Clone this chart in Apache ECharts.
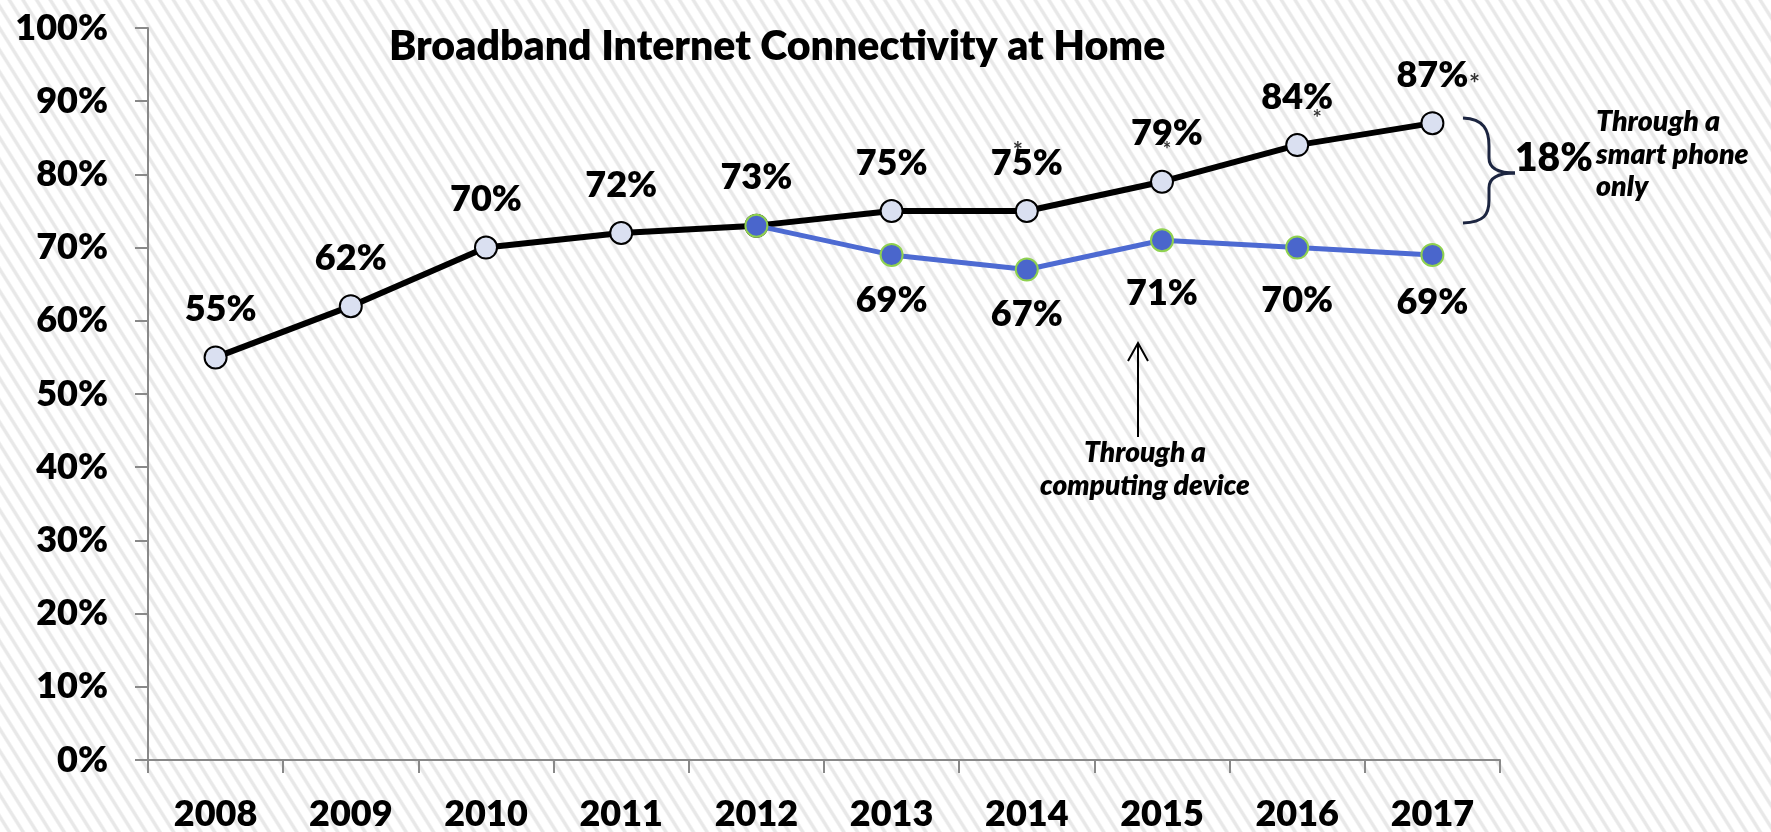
<!DOCTYPE html>
<html>
<head>
<meta charset="utf-8">
<script src="https://cdn.jsdelivr.net/npm/echarts@6/dist/echarts.min.js"></script>
<style>
  html, body { margin: 0; padding: 0; width: 1771px; height: 832px; overflow: hidden; }
  body {
    background: repeating-linear-gradient(58deg, #ffffff 0px, #ffffff 5.5px, #e8e8e8 7px, #e8e8e8 9px, #ffffff 10.5px, #ffffff 11.6px);
  }
  #chart { width: 1771px; height: 832px; }
</style>
</head>
<body>
<div id="chart"></div>
<script>
const years = ['2008','2009','2010','2011','2012','2013','2014','2015','2016','2017'];
const totalBroadband = [55, 62, 70, 72, 73, 75, 75, 79, 84, 87];
const computingDevice = [null, null, null, null, 73, 69, 67, 71, 70, 69];
const asteriskYears = ['2014', '2015', '2016', '2017'];
const yTicks = [0, 10, 20, 30, 40, 50, 60, 70, 80, 90, 100];
const titleText = 'Broadband Internet Connectivity at Home';
const smartPhoneGap = '18%';

const FONT = 'Lato, "Open Sans", "Noto Sans", sans-serif';
const W = 800;
const asteriskOffsets = { '2014': [-9, -59], '2015': [5, -31], '2016': [20, -26], '2017': [42, -39] };
const asteriskSizes = { '2014': 24, '2015': 20, '2016': 22, '2017': 26 };
const totalLabelOffsets = { '2008': [5, 0], '2015': [5, 0] };
const deviceLabelDistance = { '2015': 23, '2016': 23, '2017': 17 };

const chart = echarts.init(document.getElementById('chart'), null, { renderer: 'canvas' });

const asteriskData = asteriskYears.map(y => {
  const i = years.indexOf(y);
  return { value: [y, totalBroadband[i]], label: { offset: asteriskOffsets[y], fontSize: asteriskSizes[y] } };
});

const totalData = totalBroadband.map((v, i) => {
  const o = totalLabelOffsets[years[i]];
  return o ? { value: v, label: { offset: o } } : v;
});

const deviceData = computingDevice.map((v, i) => {
  const d = deviceLabelDistance[years[i]];
  return d ? { value: v, label: { distance: d } } : v;
});

const braceStyle = { fill: 'none', stroke: '#1c2540', lineWidth: 3 };

const option = {
  backgroundColor: 'transparent',
  animation: false,
  title: {
    text: titleText,
    left: 384,
    top: 21,
    textStyle: { fontFamily: FONT, fontWeight: W, fontSize: 41, color: '#000' }
  },
  grid: { left: 148, right: 271, top: 28, bottom: 72, containLabel: false },
  xAxis: {
    type: 'category',
    data: years,
    boundaryGap: true,
    axisLine: { show: true, lineStyle: { color: '#898989', width: 2 } },
    axisTick: { show: true, length: 13, lineStyle: { color: '#898989', width: 2 } },
    axisLabel: { margin: 36, fontFamily: FONT, fontWeight: W, fontSize: 36, color: '#000' },
    splitLine: { show: false }
  },
  yAxis: {
    type: 'value',
    min: yTicks[0],
    max: yTicks[yTicks.length - 1],
    interval: yTicks[1] - yTicks[0],
    axisLine: { show: true, lineStyle: { color: '#898989', width: 2 } },
    axisTick: { show: true, length: 13, lineStyle: { color: '#898989', width: 2 } },
    axisLabel: { margin: 40, formatter: '{value}%', fontFamily: FONT, fontWeight: W, fontSize: 36, color: '#000' },
    splitLine: { show: false }
  },
  series: [
    {
      name: 'Total',
      type: 'line',
      data: totalData,
      z: 2,
      symbol: 'circle',
      symbolSize: 22,
      lineStyle: { color: '#000', width: 6 },
      itemStyle: { color: '#dae0f1', borderColor: '#000', borderWidth: 2 },
      label: {
        show: true,
        position: 'top',
        distance: 18,
        formatter: '{c}%',
        fontFamily: FONT, fontWeight: W, fontSize: 36, color: '#000'
      }
    },
    {
      name: 'Computing device',
      type: 'line',
      data: deviceData,
      z: 3,
      symbol: 'circle',
      symbolSize: 22,
      lineStyle: { color: '#4d6ad2', width: 5 },
      itemStyle: { color: '#4a66cc', borderColor: '#8fd14f', borderWidth: 2 },
      label: {
        show: true,
        position: 'bottom',
        distance: 15,
        formatter: p => (p.dataIndex === 4 ? '' : p.value + '%'),
        fontFamily: FONT, fontWeight: W, fontSize: 36, color: '#000'
      }
    },
    {
      name: 'asterisk',
      type: 'scatter',
      data: asteriskData,
      symbolSize: 1,
      itemStyle: { color: 'rgba(0,0,0,0)' },
      z: 5,
      silent: true,
      label: {
        show: true,
        position: 'inside',
        formatter: '*',
        fontFamily: FONT, fontWeight: 'bold', fontSize: 24, color: '#000'
      }
    }
  ],
  graphic: [
    { type: 'bezierCurve', shape: { x1: 1463, y1: 118, cpx1: 1484, cpy1: 119, cpx2: 1489, cpy2: 130, x2: 1489, y2: 146 }, style: braceStyle },
    { type: 'line', shape: { x1: 1489, y1: 146, x2: 1489, y2: 158 }, style: braceStyle },
    { type: 'bezierCurve', shape: { x1: 1489, y1: 158, cpx1: 1489, cpy1: 168, cpx2: 1498, cpy2: 173, x2: 1515, y2: 173 }, style: braceStyle },
    { type: 'bezierCurve', shape: { x1: 1515, y1: 173, cpx1: 1498, cpy1: 173, cpx2: 1489, cpy2: 178, x2: 1489, y2: 188 }, style: braceStyle },
    { type: 'line', shape: { x1: 1489, y1: 188, x2: 1489, y2: 200 }, style: braceStyle },
    { type: 'bezierCurve', shape: { x1: 1489, y1: 200, cpx1: 1489, cpy1: 215, cpx2: 1484, cpy2: 222, x2: 1463, y2: 223 }, style: braceStyle },
    {
      type: 'text',
      left: 1515,
      top: 139,
      style: { text: smartPhoneGap, fontFamily: FONT, fontWeight: W, fontSize: 39, fill: '#000' }
    },
    {
      type: 'text',
      left: 1596,
      top: 106,
      style: {
        text: 'Through a\nsmart phone\nonly',
        fontFamily: FONT, fontWeight: W, fontStyle: 'italic', fontSize: 28.5, lineHeight: 32.5, fill: '#000'
      }
    },
    {
      type: 'line',
      shape: { x1: 1138, y1: 437, x2: 1138, y2: 343 },
      style: { stroke: '#000', lineWidth: 2 }
    },
    {
      type: 'polyline',
      shape: { points: [[1128, 361], [1138, 343], [1148, 361]] },
      style: { stroke: '#000', lineWidth: 2, fill: 'none' }
    },
    {
      type: 'text',
      x: 1145,
      y: 436,
      style: {
        text: 'Through a\ncomputing device',
        align: 'center',
        fontFamily: FONT, fontWeight: W, fontStyle: 'italic', fontSize: 28, lineHeight: 33, fill: '#000'
      }
    }
  ]
};

chart.setOption(option);
</script>
</body>
</html>
